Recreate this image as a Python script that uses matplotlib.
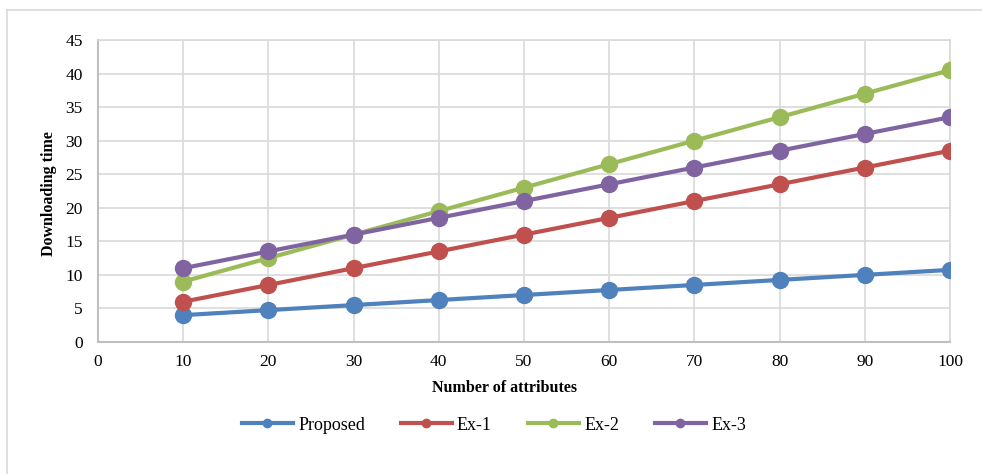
import matplotlib.pyplot as plt
from matplotlib.lines import Line2D

plt.rcParams['font.family'] = ['Liberation Serif', 'DejaVu Serif']

attributes = [10, 20, 30, 40, 50, 60, 70, 80, 90, 100]
proposed = [4.0, 4.75, 5.5, 6.25, 7.0, 7.75, 8.5, 9.25, 10.0, 10.75]
ex1 = [6.0, 8.5, 11.0, 13.5, 16.0, 18.5, 21.0, 23.5, 26.0, 28.5]
ex2 = [9.0, 12.5, 16.0, 19.5, 23.0, 26.5, 30.0, 33.5, 37.0, 40.5]
ex3 = [11.0, 13.5, 16.0, 18.5, 21.0, 23.5, 26.0, 28.5, 31.0, 33.5]

series = [
    ("Proposed", proposed, "#4F81BD"),
    ("Ex-1", ex1, "#C0504D"),
    ("Ex-2", ex2, "#9BBB59"),
    ("Ex-3", ex3, "#8064A2"),
]

fig = plt.figure(figsize=(9.82, 4.74), dpi=100)
ax = fig.add_axes([98 / 982, 1 - 342 / 474, 852 / 982, 302 / 474])

for name, vals, color in series:
    ax.plot(attributes, vals, color=color, lw=3.0, marker="o", ms=11.5,
            label=name, zorder=3)

ax.set_xlim(0, 100)
ax.set_ylim(0, 45)
ax.set_xticks(range(0, 101, 10))
ax.set_yticks(range(0, 46, 5))
ax.grid(True, color="#D9D9D9", lw=1.2)
ax.set_axisbelow(True)
ax.tick_params(length=0, labelsize=12.5, colors="#000000")
ax.tick_params(axis="x", pad=9)
ax.tick_params(axis="y", pad=11)
for side in ("top", "right"):
    ax.spines[side].set_color("#D9D9D9")
    ax.spines[side].set_linewidth(1.2)
for side in ("left", "bottom"):
    ax.spines[side].set_color("#BFBFBF")
    ax.spines[side].set_linewidth(1.5)

ax.set_xlabel("Number of attributes", fontsize=11.5, fontweight="bold")
ax.set_ylabel("Downloading time", fontsize=11.5, fontweight="bold")
ax.xaxis.set_label_coords((504 - 98) / 852, -(380 - 342) / 302)
ax.yaxis.set_label_coords(-(98 - 57) / 852, 0.49)

handles = [Line2D([], [], color=c, lw=3.0, marker="o", ms=6) for _, _, c in series]
fig.legend(handles, [n for n, _, _ in series], loc="center",
           bbox_to_anchor=(494 / 982, 1 - 425 / 474), ncol=4, frameon=False,
           fontsize=13, handlelength=2.8, handletextpad=0.3,
           columnspacing=2.0)

# chart frame
fig.add_artist(Line2D([7 / 982, 7 / 982], [0, 1 - 10 / 474],
                      transform=fig.transFigure, color="#D9D9D9", lw=1.2))
fig.add_artist(Line2D([7 / 982, 1], [1 - 10 / 474, 1 - 10 / 474],
                      transform=fig.transFigure, color="#D9D9D9", lw=1.2))

fig.savefig("out.png", dpi=100)
